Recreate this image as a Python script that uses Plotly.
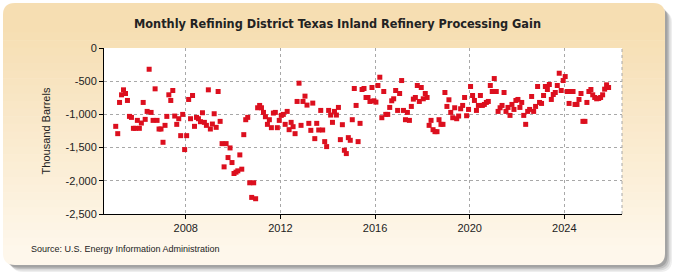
import pandas as pd
import plotly.graph_objects as go

# Monthly processing gain, thousand barrels, Jan 2005 onwards
gain_2005_2010 = [
    -1180, -1290, -820, -705, -630, -685, -790, -1030, -1045, -1210, -1210, -1090,
    -1210, -1130, -820, -1075, -955, -320, -970, -1090, -615, -1090, -1220, -1220,
    -1420, -1165, -1030, -705, -790, -640, -1025, -1150, -1065, -1320, -1000, -1530,
    -1320, -775, -1065, -715, -1180, -1045, -1065, -1110, -975, -1120, -1165, -630,
    -1220, -1145, -990, -1195, -655, -1105, -1440, -1790, -1440, -1650, -1505, -1725,
    -1890, -1870, -1850, -1610, -1825, -1305, -1080, -1045, -2030, -2250, -2030, -2270,
]
gain_2011_2019 = [
    -900, -865, -900, -970, -1035, -1150, -1080, -1200, -980, -970, -1200, -1090,
    -1015, -1000, -1150, -955, -1230, -1120, -1185, -1290, -805, -530, -1165, -805,
    -725, -860, -1135, -1240, -830, -1365, -1135, -1235, -940, -1235, -1410, -1485,
    -940, -1010, -1120, -955, -1010, -895, -1380, -1155, -1540, -1590, -1350, -1390,
    -1080, -610, -865, -1410, -1135, -625, -610, -745, -745, -805, -595, -795,
    -815, -565, -440, -1050, -655, -1000, -1000, -895, -795, -765, -640, -940,
    -685, -490, -940, -1080, -970, -1090, -880, -770, -745, -565, -805, -595,
    -765, -685, -745, -1165, -1090, -1230, -1260, -1260, -1080, -1150, -1150, -670,
    -880, -780,
]
gain_2019_2025 = [
    -970, -1050, -900, -1065, -1025, -915, -865, -745, -1020, -925, -580, -715,
    -790, -940, -865, -715, -865, -850, -820, -805, -565, -655, -460, -655,
    -955, -900, -865, -670, -955, -895, -1015, -850, -925, -790, -775, -895,
    -820, -1015, -1150, -955, -925, -730, -955, -880, -580, -820, -835, -715,
    -580, -625, -550, -775, -700, -670, -565, -380, -640, -490, -430, -655,
    -835, -655, -655, -850, -850, -775, -685, -1105, -1105, -820, -655, -625,
    -705, -745, -765, -760, -745, -705, -620, -555, -595,
]
gain = gain_2005_2010 + gain_2011_2019 + gain_2019_2025
months = pd.date_range('2005-01-01', periods=len(gain), freq='MS') + pd.Timedelta(days=14)

y_ticks = [0, -500, -1000, -1500, -2000, -2500]
y_labels = ['0', '-500', '-1,000', '-1,500', '-2,000', '-2,500']
x_ticks = ['2008-01-01', '2012-01-01', '2016-01-01', '2020-01-01', '2024-01-01']
x_labels = ['2008', '2012', '2016', '2020', '2024']

W, H = 675, 275
L, R, T, B = 104, 622, 48, 214   # plot area in pixels


def px(x):
    return (x - L) / (R - L)


def py(y):
    return (B - y) / (B - T)


def rounded(x0, y0, x1, y1, r):
    return (f'M {px(x0 + r)} {py(y0)} L {px(x1 - r)} {py(y0)} '
            f'Q {px(x1)} {py(y0)} {px(x1)} {py(y0 + r)} L {px(x1)} {py(y1 - r)} '
            f'Q {px(x1)} {py(y1)} {px(x1 - r)} {py(y1)} L {px(x0 + r)} {py(y1)} '
            f'Q {px(x0)} {py(y1)} {px(x0)} {py(y1 - r)} L {px(x0)} {py(y0 + r)} '
            f'Q {px(x0)} {py(y0)} {px(x0 + r)} {py(y0)} Z')


shapes = []
# soft shadow right/bottom
for i, op in enumerate([0.10, 0.14, 0.20, 0.28]):
    d = 7 - i * 1.5
    shapes.append(dict(type='path', xref='paper', yref='paper', layer='below',
                       path=rounded(4 + d, 4 + d, 665 + d, 265 + d, 12),
                       fillcolor=f'rgba(90,90,90,{op})', line=dict(width=0)))
# frame with vertical gradient
top_c, bot_c = (246, 222, 178), (254, 247, 235)
shapes.append(dict(type='path', xref='paper', yref='paper', layer='below',
                   path=rounded(3, 3, 665, 265, 12),
                   fillcolor='rgb(%d,%d,%d)' % bot_c, line=dict(width=0)))
shapes.append(dict(type='path', xref='paper', yref='paper', layer='below',
                   path=rounded(3, 3, 665, 40, 12),
                   fillcolor='rgb(%d,%d,%d)' % top_c, line=dict(width=0)))
n = 30
y_top, y_bot = 25, 253
for i in range(n):
    f = i / (n - 1)
    c = tuple(round(a + (b - a) * f) for a, b in zip(top_c, bot_c))
    y0 = y_top + (y_bot - y_top) * i / n
    y1 = y_top + (y_bot - y_top) * (i + 1) / n + 0.5
    shapes.append(dict(type='rect', xref='paper', yref='paper', layer='below',
                       x0=px(3), x1=px(665), y0=py(y0), y1=py(y1),
                       fillcolor='rgb(%d,%d,%d)' % c, line=dict(width=0)))
# white plot area
shapes.append(dict(type='rect', xref='paper', yref='paper', layer='below',
                   x0=0, x1=1, y0=0, y1=1, fillcolor='white', line=dict(width=0)))
# dashed right border
shapes.append(dict(type='line', xref='paper', yref='paper', x0=1, x1=1, y0=0, y1=1,
                   line=dict(color='#a8a8a8', width=1, dash='dot')))

fig = go.Figure(go.Scatter(
    x=months, y=gain, mode='markers',
    marker=dict(symbol='square', size=5, color='#dc0f1e',
                line=dict(width=0)),
    showlegend=False, hoverinfo='x+y',
))

fig.update_layout(
    width=W, height=H,
    margin=dict(l=L, r=W - R, t=T, b=H - B, pad=0),
    paper_bgcolor='white', plot_bgcolor='white',
    font=dict(family='Liberation Sans, Arial, sans-serif', size=11, color='#222'),
    title=dict(text='<b>Monthly Refining District Texas Inland Refinery Processing Gain</b>',
               x=0.5, xref='container', y=1 - 24 / H, yanchor='middle',
               font=dict(family='DejaVu Sans Condensed, Liberation Sans, sans-serif',
                         size=12.6, color='#222')),
    shapes=shapes,
    annotations=[dict(text='Source: U.S. Energy Information Administration',
                      xref='paper', yref='paper', x=px(29), y=py(249),
                      xanchor='left', yanchor='middle', showarrow=False,
                      font=dict(size=9, color='#222'))],
)
fig.update_xaxes(
    type='date', range=['2004-07-18', '2026-06-10'],
    tickvals=x_ticks, ticktext=x_labels, ticks='outside', ticklen=4,
    tickcolor='#000', showline=True, linecolor='#000', linewidth=1,
    showgrid=True, gridcolor='#a8a8a8', griddash='dot', gridwidth=1,
    zeroline=False, tickfont=dict(size=11, color='#222'),
)
fig.update_yaxes(
    range=[-2500, 0], tickvals=y_ticks, ticktext=y_labels,
    ticks='outside', ticklen=4, tickcolor='#000',
    showline=True, linecolor='#000', linewidth=1,
    showgrid=True, gridcolor='#a8a8a8', griddash='dot', gridwidth=1,
    zeroline=False, tickfont=dict(size=11, color='#222'),
    title=dict(text='Thousand Barrels', font=dict(size=11, color='#222'), standoff=12),
)

fig.write_html('out.html', config={'displayModeBar': False},
               post_script="document.body.style.margin='0';")
